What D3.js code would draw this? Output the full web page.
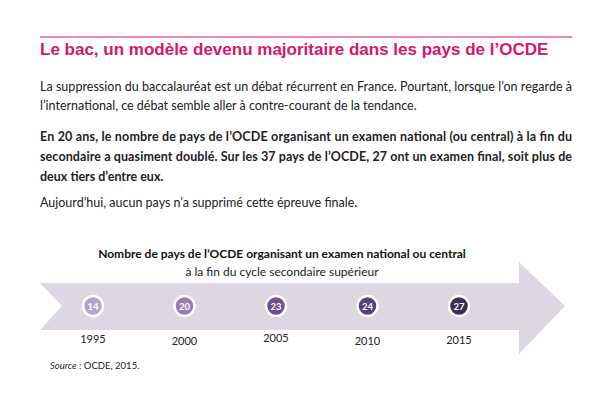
<!DOCTYPE html><html><head><meta charset="utf-8"><script src="https://cdn.jsdelivr.net/npm/d3@7"></script>
<style>body{margin:0;background:#fff}text{font-family:Lato,"Open Sans",sans-serif}</style></head><body>
<svg id="c" width="599" height="408"></svg>
<script>
const years=["1995","2000","2005","2010","2015"];
const values=[14,20,23,24,27];
const colors=["#b8a3cb","#9a7db5","#6f4f8c","#5a4177","#3f2c56"];
const labelDy=[0,2,-1,2,1];
const svg=d3.select("#c");
svg.append("line").attr("x1",40).attr("x2",572).attr("y1",37).attr("y2",37).attr("stroke","#d4166f").attr("stroke-width",1);
svg.append("text").attr("x",40).attr("y",55).attr("fill","#d4166f").style("font-family","'Liberation Sans',Arial").style("font-weight","bold").style("font-size","17px").text("Le bac, un modèle devenu majoritaire dans les pays de l’OCDE");
const lines=[
 {t:"La suppression du baccalauréat est un débat récurrent en France. Pourtant, lorsque l’on regarde à",y:91,j:true},
 {t:"l’international, ce débat semble aller à contre-courant de la tendance.",y:110},
 {t:"En 20 ans, le nombre de pays de l’OCDE organisant un examen national (ou central) à la fin du",y:141,j:true,b:true},
 {t:"secondaire a quasiment doublé. Sur les 37 pays de l’OCDE, 27 ont un examen final, soit plus de",y:161,j:true,b:true},
 {t:"deux tiers d’entre eux.",y:181,b:true},
 {t:"Aujourd’hui, aucun pays n’a supprimé cette épreuve finale.",y:207}];
lines.forEach(l=>{const t=svg.append("text").attr("x",40).attr("y",l.y).attr("fill","#222").style("font-size","12.5px").style("font-weight",l.b?"bold":"normal").text(l.t);
 if(l.j)t.attr("textLength",532).attr("lengthAdjust","spacing");});
svg.append("text").attr("x",282).attr("y",258).attr("text-anchor","middle").style("font-size","12px").style("font-weight","bold").attr("fill","#111").text("Nombre de pays de l’OCDE organisant un examen national ou central");
svg.append("text").attr("x",282).attr("y",276).attr("text-anchor","middle").style("font-size","12px").attr("fill","#222").text("à la fin du cycle secondaire supérieur");
svg.append("path").attr("d","M40,283 L519,283 L519,262 L565,306 L519,354 L519,330 L40,330 L62,306 Z").attr("fill","#dcd7e3");
const x=d3.scalePoint().domain(years).range([93,459]);
const g=svg.selectAll(".n").data(years).enter().append("g");
g.append("circle").attr("cx",d=>x(d)).attr("cy",306).attr("r",10).attr("fill",(d,i)=>colors[i]).attr("stroke","#fff").attr("stroke-width",2.5);
g.append("text").attr("x",d=>x(d)).attr("y",310).attr("text-anchor","middle").attr("fill","#fff").style("font-size","9.5px").style("font-weight","bold").text((d,i)=>values[i]);
g.append("text").attr("x",d=>x(d)).attr("y",(d,i)=>343+labelDy[i]).attr("text-anchor","middle").attr("fill","#222").style("font-size","11px").text(d=>d);
const s=svg.append("text").attr("x",50).attr("y",369).style("font-size","9.5px").attr("fill","#222");
s.append("tspan").style("font-style","italic").text("Source");s.append("tspan").text(" : OCDE, 2015.");
</script></body></html>
